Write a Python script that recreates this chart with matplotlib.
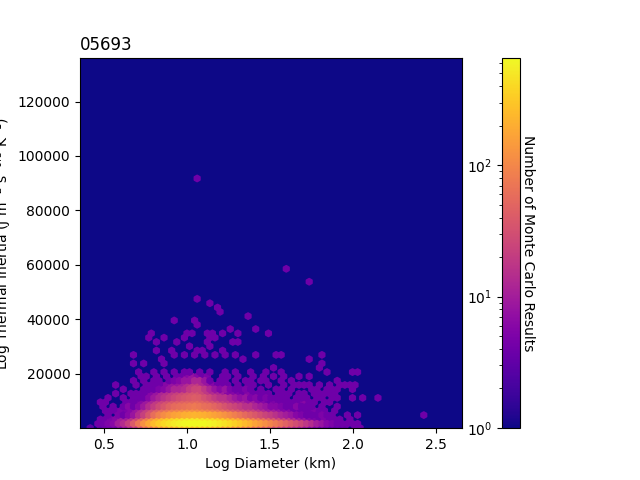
import matplotlib
matplotlib.use("Agg")
import matplotlib.pyplot as plt
import numpy as np
from matplotlib.colors import LogNorm

title = "05693"
xlabel = "Log Diameter (km)"
ylabel = r"Log Thermal Inertia (J m$^{-2}$ s$^{-0.5}$ K$^{-1}$)"
cbar_label = "Number of Monte Carlo Results"
x_limits = (0.353, 2.66)
y_limits = (0, 136000)
color_limits = (1, 656)
grid_cells = (75, 43)
first_col = 2

density_rows = [
 [3,0,3,4,4,4,6,8,12,16,30,45,60,80,110,130,150,170,190,200,210,200,190,180,160,140,120,110,95,80,70,60,50,40,34,30,24,20,16,14,12,10,8,6,5,4,4,3,3,3,3,0,4,4,0,0,0,0],
 [0,4,4,5,6,10,14,22,40,70,120,180,250,320,400,470,530,590,630,650,650,650,640,610,570,520,470,410,350,300,250,210,170,140,115,95,75,60,48,38,30,24,18,14,10,8,6,5,4,4,4,4,4,0,0,0,0,0],
 [0,0,4,4,5,6,10,10,16,25,45,80,130,190,250,310,370,420,470,500,520,510,480,450,410,370,320,270,230,190,160,130,100,80,65,50,40,30,24,20,14,10,8,6,5,4,5,4,4,4,0,4,0,0,0,0,0,0],
 [0,0,0,4,0,5,4,6,8,14,22,36,60,85,110,135,160,180,200,215,225,220,205,185,165,145,125,105,85,70,55,45,38,30,24,20,16,12,10,8,6,5,4,4,4,5,4,4,0,0,4,0,4,0,0,0,0,0],
 [0,0,0,4,4,4,5,5,6,9,14,22,32,45,58,70,85,95,105,115,120,115,105,95,85,75,62,52,42,36,28,24,24,18,14,10,10,8,6,6,4,4,4,4,5,4,4,0,4,0,0,0,0,0,0,0,0,0],
 [0,0,4,0,4,0,4,6,4,6,9,14,20,28,36,46,55,60,65,70,75,70,62,58,50,42,34,28,24,20,16,16,12,10,8,6,6,5,4,4,6,4,4,4,0,4,0,0,4,0,0,0,0,0,0,0,0,0],
 [0,0,4,4,0,0,0,4,4,4,6,9,12,18,24,30,36,42,46,50,52,55,48,42,34,28,22,18,14,12,12,8,10,6,6,4,5,4,4,4,4,4,6,4,4,0,4,4,0,0,0,0,0,0,0,0,0,0],
 [0,0,0,4,0,0,4,0,4,4,4,6,9,12,16,20,25,30,34,38,42,40,32,26,20,16,16,12,9,7,8,5,6,4,5,4,4,4,4,0,4,4,4,0,4,4,0,4,4,0,0,4,0,4,0,0,4,0],
 [0,0,0,0,0,4,0,0,4,4,4,4,6,8,12,14,18,22,25,30,34,34,26,18,14,12,10,6,6,5,4,6,4,4,4,4,0,4,4,4,0,4,4,0,4,4,4,4,4,0,0,0,0,0,0,0,0,0],
 [0,0,0,0,0,0,4,0,0,0,4,4,4,5,6,8,12,12,14,20,25,26,18,12,8,6,8,5,4,4,5,4,0,4,0,0,4,4,0,4,0,0,0,4,4,0,4,4,4,0,0,4,0,0,0,0,0,0],
 [0,0,0,0,0,4,0,0,0,4,0,4,4,4,4,6,8,8,10,14,18,20,12,8,6,4,4,4,0,4,0,4,4,0,0,4,0,0,4,0,4,4,4,4,0,4,0,4,0,4,4,4,4,0,0,0,0,0],
 [0,0,0,0,0,0,0,0,4,0,4,0,4,4,0,4,5,6,8,8,12,12,8,4,0,4,4,0,4,0,4,4,0,4,4,0,0,4,0,4,0,0,0,0,0,0,0,0,4,0,0,0,0,0,0,0,0,0],
 [0,0,0,0,0,0,0,0,0,0,4,4,0,4,0,4,0,4,4,6,8,6,4,5,0,0,4,4,0,4,0,0,4,0,4,0,4,0,4,0,0,4,0,4,0,0,0,0,0,0,0,0,0,0,0,0,0,0],
 [0,0,0,0,0,0,0,0,0,4,0,0,4,0,4,0,4,0,4,4,0,4,0,4,0,0,4,0,4,0,0,4,0,0,4,0,0,4,0,0,0,0,0,0,0,0,4,0,0,0,0,0,4,0,0,0,0,0],
]

sparse_x = [1.068,1.138,1.175,1.199,.933,1.05,1.05,1.036,1.108,1.155,1.217,1.275,1.31,1.406,1.368,1.0,
            .76,.79,.868,.998,1.132,1.178,1.488,.806,.824,.945,1.114,1.263,1.307,.82,.913,1.005,1.058,1.078,
            1.126,1.217,.681,1.526,1.42,.735,.681,.836,.866,.937,.998,1.048,1.097,1.178,1.239,1.3,1.338,
            1.577,1.742,1.82,1.82,1.79,1.517,1.06,1.6,1.736]
sparse_y = [46950,45700,44700,42300,40000,39600,38400,35300,35300,35300,35300,36500,35300,36500,41200,35300,
            33200,34100,33200,33200,33200,33200,34400,31200,31200,31200,31200,31200,31200,28600,28600,29700,28600,28600,
            29700,28600,27350,26350,26350,24260,23050,24900,24260,27400,26700,26700,26700,27400,26700,26700,26100,
            26700,26100,27600,22950,21800,22700,92000,59000,54500]
sparse_value = 4
outlier_x = [2.418, 2.0]
outlier_y = [4800, 20600]

sx = (x_limits[1] - x_limits[0]) / grid_cells[0]
sy = (y_limits[1] - y_limits[0]) / grid_cells[1]
xs, ys, cs = [], [], []
for j, row in enumerate(density_rows):
    for c, v in enumerate(row):
        if v > 0:
            xs.append(x_limits[0] + (first_col + c + (j % 2) / 2) * sx)
            ys.append(y_limits[0] + j * sy / 2)
            cs.append(v)
for x, y in zip(sparse_x + outlier_x, sparse_y + outlier_y):
    xs.append(x); ys.append(y); cs.append(sparse_value)

fig = plt.figure(figsize=(6.4, 4.8), dpi=100)
ax = fig.add_axes([80/640, 1-428/480, (462-80)/640, (428-58)/480])
ax.set_facecolor(plt.get_cmap("plasma")(0.0))
hb = ax.hexbin(xs, ys, C=cs, reduce_C_function=np.max, gridsize=grid_cells,
               extent=(*x_limits, *y_limits), cmap="plasma",
               norm=LogNorm(*color_limits), linewidths=1.5)
ax.set_xlim(*x_limits)
ax.set_ylim(*y_limits)
ax.set_yticks([20000, 40000, 60000, 80000, 100000, 120000])
ax.set_title(title, loc="left")
ax.set_xlabel(xlabel)
ax.set_ylabel(ylabel)
ax.yaxis.set_label_coords(-0.172, 0.5)

cax = fig.add_axes([502/640, 1-428/480, 18/640, (428-58)/480])
cb = fig.colorbar(hb, cax=cax)
cax.yaxis.tick_left()
cax.yaxis.set_label_position("right")
cb.set_label(cbar_label, rotation=270, labelpad=11)
fig.savefig("out.png", dpi=100)
